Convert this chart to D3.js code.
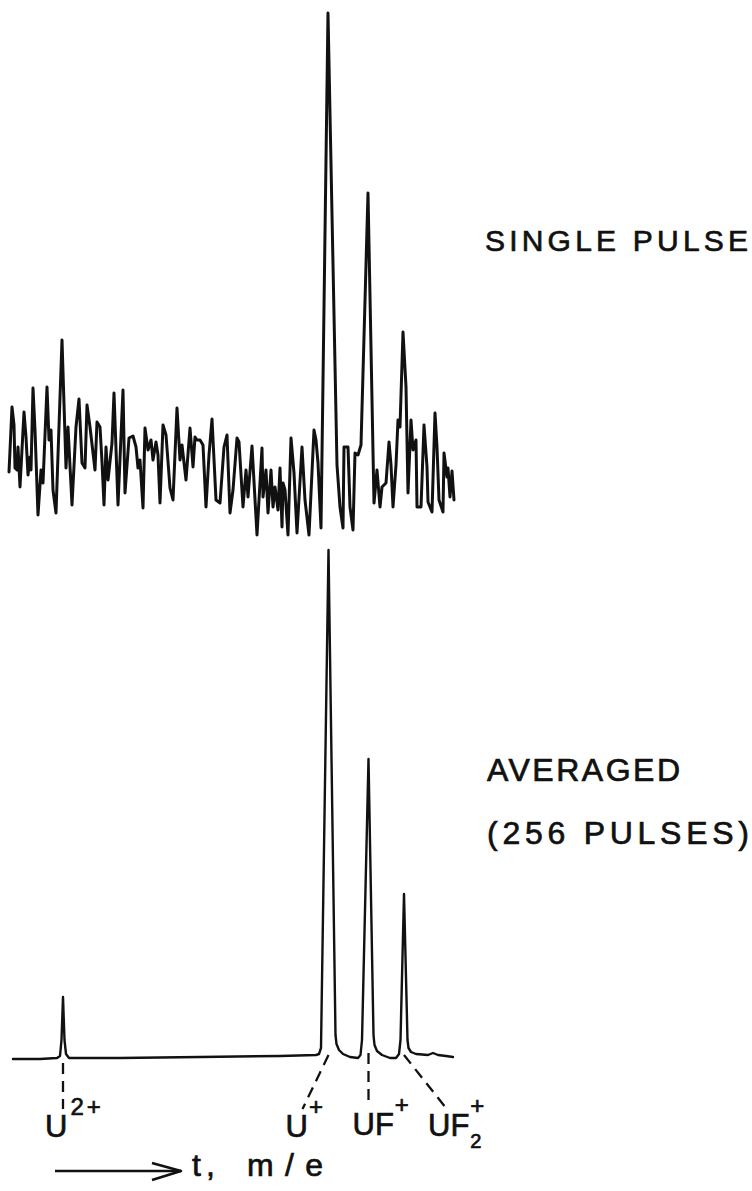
<!DOCTYPE html>
<html>
<meta charset="utf-8">
<head>
  <title>Single pulse vs averaged TOF spectrum</title>
</head>

<style>
body {
  margin: 0;
  background: #fff;
}
.trace {
  fill: none;
  stroke: #111;
  stroke-linejoin: round;
  stroke-linecap: round;
}
.dash {
  stroke: #111;
  stroke-width: 2.3;
  stroke-dasharray: 11 7;
}
text {
  font-family: "Liberation Sans", Arial, sans-serif;
  fill: #111;
  stroke: #111;
  stroke-width: 0.7;
}
</style>

<body>
  <div id="content">
    <svg width="752" height="1191"></svg>
  </div>

  <script src="https://cdnjs.cloudflare.com/ajax/libs/d3/7.8.5/d3.min.js"></script>

  <script>
var width = 752, height = 1191

// single pulse trace: time channel and signal (arbitrary units)
var singleT = [0, 3, 5, 6, 8, 9, 11, 15, 17, 19, 21, 22, 24, 26, 29, 32, 34, 38, 40, 42,
  44, 47, 53, 57, 59, 63, 67, 70, 73, 76, 78, 81, 86, 88, 91, 93, 95, 97, 99, 103,
  105, 109, 114, 116, 120, 124, 127, 129, 131, 134, 136, 139, 142, 144, 147, 149, 151, 154, 157, 161,
  164, 168, 171, 173, 177, 181, 184, 186, 188, 191, 194, 197, 200, 203, 207, 211, 215, 218, 221, 224,
  228, 230, 234, 237, 239, 243, 248, 253, 254, 257, 259, 262, 264, 266, 269, 271, 273, 274, 276, 279,
  282, 285, 288, 293, 296, 300, 305, 307, 309, 312, 319, 328, 331, 334, 335, 339, 341, 344, 346, 349,
  352, 359, 365, 368, 371, 373, 377, 380, 382, 384, 387, 389, 391, 394, 397, 399, 402, 404, 407, 408,
  412, 415, 418, 419, 423, 426, 428, 430, 434, 435, 438, 439, 441, 443, 445]
var singleI = [-12, 53, 35, -8, -10, 13, -27, 48, 23, -15, 3, -10, 72, 30, -55, -10, -23, 73, 20, 30,
  -30, -53, 120, -8, 33, -45, 33, 61, -3, -8, 55, 33, -10, 38, 33, -2, -45, 13, -20, 17,
  67, -45, 70, -33, 22, 24, 13, -8, 0, -48, 32, 10, 20, 0, 18, 5, -43, 35, 25, -28,
  -40, 52, 0, 15, -20, 32, -7, 23, 20, 20, 15, -47, 5, 41, -40, -43, 13, 25, -53, -30,
  22, 18, -47, -10, -37, 14, -75, 12, -37, -10, -53, -10, -47, -27, -50, -8, -67, -23, -30, -75,
  22, -13, -73, 13, -40, -75, 30, 20, -3, -68, 447, -5, -47, -68, 13, 13, -47, -70, 7, 5,
  15, 267, -43, -10, -47, -27, -23, 18, -5, -47, -5, 40, 33, 128, 73, -33, 40, 10, 20, -47,
  -47, 35, -7, -42, -52, 47, 13, -40, -52, 7, -17, -8, -37, -11, -40]

// averaged (256 pulses) trace
var avgT = [4, 31, 48, 51, 52.5, 54, 55.5, 57, 60, 111, 191, 271, 307, 310, 312, 319.5, 326.5, 327.5, 330, 334,
  341, 349, 351.5, 353, 359.5, 364.5, 365.5, 368, 373, 381, 387, 390, 391.5, 395, 398.5, 399.5, 402, 407, 419, 424,
  429, 437, 444]
var avgI = [-2, -2, -1, 1, 17, 60, 17, 3, -1, -1, 0, 1, 2, 3, 9, 507, 22, 13, 7, 3,
  0, -1, 2, 17, 298, 22, 12, 6, 2, -1, -1, 3, 17, 163, 17, 9, 5, 3, 2, 4,
  2, 1, 0]

// peak assignments
var peakNames = ['U', 'U', 'UF', 'UF']
var peakSup = ['2+', '+', '+', '+']
var peakSub = ['', '', '', '2']
var peakT = [54, 319.5, 359.5, 395]

// leader geometry per label (dash start drop, dash end offset, text offset)
var leaderTop = [6, -2, -4, -2]
var leaderDx = [0, -26, 0, 42]
var leaderLen = [46, 54, 54, 53]
var textDx = [-18, -17, -16, -18]

var svg = d3.select('svg')

var x = d3.scaleLinear().domain([0, 446]).range([9, 455])
var yTop = d3.scaleLinear().domain([0, 447]).range([460, 13])
var yBot = d3.scaleLinear().domain([0, 507]).range([1057, 550])

var singleLine = d3.line()
  .x(function(d, i) { return x(singleT[i]) })
  .y(function(d) { return yTop(d) })

var avgLine = d3.line()
  .x(function(d, i) { return x(avgT[i]) })
  .y(function(d) { return yBot(d) })

svg.append('path')
  .attr('class', 'trace')
  .attr('stroke-width', 3)
  .attr('d', singleLine(singleI))

svg.append('path')
  .attr('class', 'trace')
  .attr('stroke-width', 2.4)
  .attr('d', avgLine(avgI))

// dashed leaders + ion labels
var base = yBot(0)
peakT.forEach(function(t, i) {
  var x0 = x(t), y0 = base + leaderTop[i]
  var x1 = x0 + leaderDx[i], y1 = y0 + leaderLen[i]
  svg.append('line')
    .attr('class', 'dash')
    .attr('x1', x0).attr('y1', y0)
    .attr('x2', x1).attr('y2', y1)

  var tx = x1 + textDx[i], ty = y1 + 28
  var lab = svg.append('text')
    .attr('x', tx).attr('y', ty)
    .attr('font-size', 31)
    .text(peakNames[i])
  var w = lab.node().getComputedTextLength()
  if (peakSub[i]) {
    svg.append('text')
      .attr('x', tx + w + 1).attr('y', ty + 12)
      .attr('font-size', 20)
      .text(peakSub[i])
  }
  svg.append('text')
    .attr('x', tx + w + (i == 0 ? 3 : 1)).attr('y', ty - 22)
    .attr('font-size', 24)
    .attr('letter-spacing', i == 0 ? 3 : 0)
    .text(peakSup[i])
})

// time axis arrow
var ay = 1171
svg.append('line')
  .attr('x1', 55).attr('y1', ay)
  .attr('x2', 181).attr('y2', ay)
  .attr('stroke', '#111').attr('stroke-width', 2.6)
svg.append('path')
  .attr('d', 'M152,' + (ay - 8) + 'L181,' + ay + 'L152,' + (ay + 9))
  .attr('fill', 'none').attr('stroke', '#111').attr('stroke-width', 2.6)
  .attr('stroke-linejoin', 'round')
svg.append('text')
  .attr('x', 192).attr('y', 1176)
  .attr('font-size', 32)
  .attr('letter-spacing', 5)
  .text('t,')
svg.append('text')
  .attr('x', 247).attr('y', 1176)
  .attr('font-size', 32)
  .attr('textLength', 76).attr('lengthAdjust', 'spacing')
  .text('m/e')

// trace captions
function caption(txt, x0, y0, size, len) {
  svg.append('text')
    .attr('x', x0).attr('y', y0)
    .attr('font-size', size)
    .attr('textLength', len).attr('lengthAdjust', 'spacing')
    .text(txt)
}
caption('SINGLE PULSE', 485, 251, 30, 263)
caption('AVERAGED', 487, 781, 32, 193)
caption('(256 PULSES)', 487, 844, 32, 262)

  </script>
</body>
</html>
